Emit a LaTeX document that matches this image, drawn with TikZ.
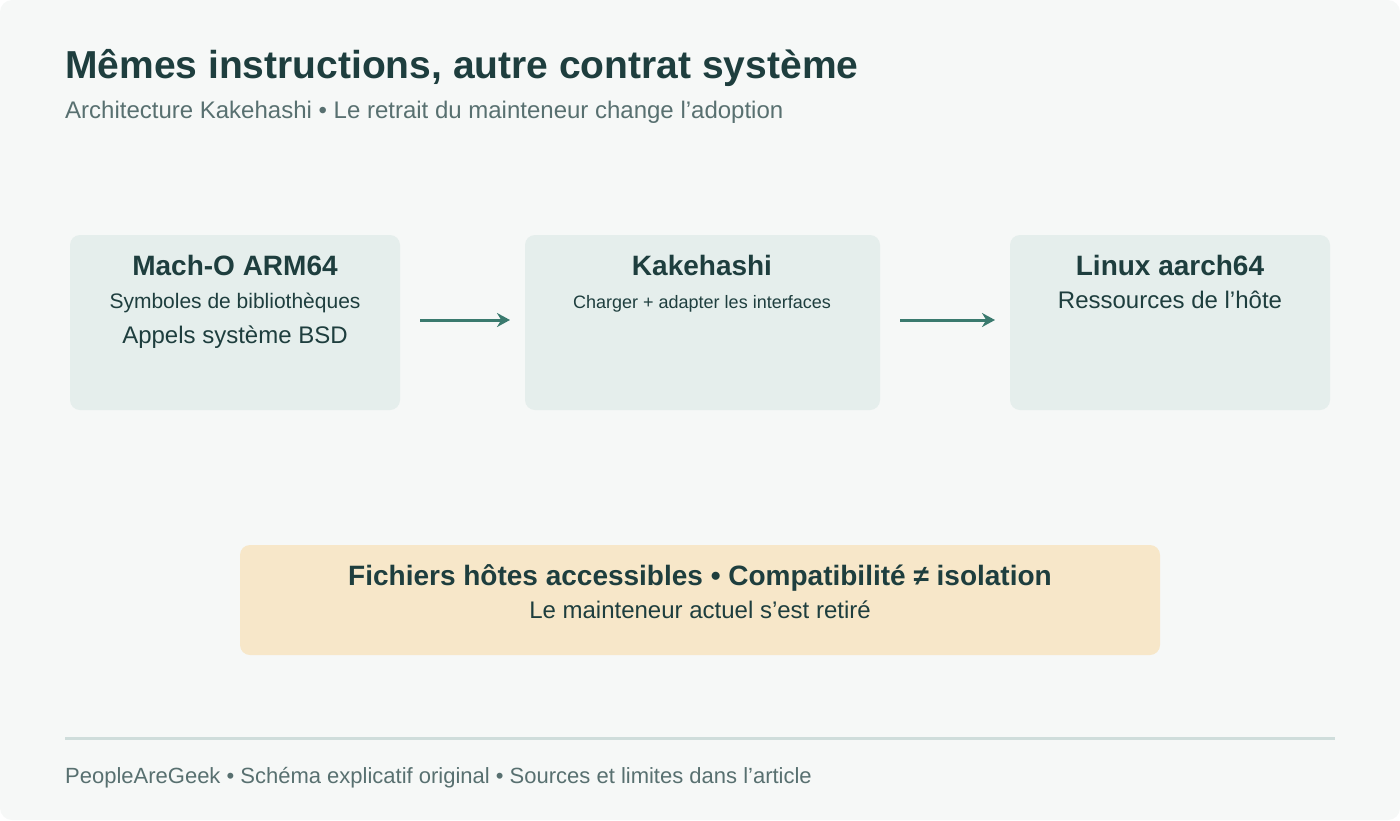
\documentclass[tikz,border=0pt]{standalone}
\usepackage{fontspec}
\setmainfont{Liberation Sans}
\usetikzlibrary{arrows.meta}
\definecolor{bg}{HTML}{F6F8F7}
\definecolor{boxc}{HTML}{E5EEEC}
\definecolor{dark}{HTML}{1E3E3E}
\definecolor{sub}{HTML}{587070}
\definecolor{arr}{HTML}{3A7A6E}
\definecolor{warn}{HTML}{F7E7C9}
\definecolor{rule}{HTML}{CFDDDB}
\tikzset{
 box/.style={fill=boxc,rounded corners=10pt,draw=none},
 wbox/.style={fill=warn,rounded corners=10pt,draw=none},
 btitle/.style={anchor=base,text=dark,font=\fontsize{28}{32}\selectfont\bfseries},
 bline/.style={anchor=base,text=dark,font=\fontsize{24}{28}\selectfont},
 bsmall/.style={anchor=base,text=dark,font=\fontsize{18}{22}\selectfont},
 conn/.style={draw=arr,line width=3pt,-{Stealth[length=13pt,width=14pt]}},
 note/.style={anchor=base west,text=sub,font=\fontsize{22}{26}\selectfont},
}
\begin{document}
\begin{tikzpicture}[x=1pt,y=-1pt]
\fill[bg,rounded corners=12pt] (0,0) rectangle (1400,820);
\useasboundingbox (0,0) rectangle (1400,820);
\node[anchor=base west,text=dark,font=\fontsize{39}{44}\selectfont\bfseries,inner sep=0] (title) at (65,78) {Mêmes instructions, autre contrat système};
\node[note,inner sep=0,font=\fontsize{24}{28}\selectfont] (subt) at (65,118) {Architecture Kakehashi • Le retrait du mainteneur change l’adoption};
\draw[box] (70,235) rectangle (400,410);
\node[btitle] (t1) at (235,275) {Mach-O ARM64};
\node[bsmall,font=\fontsize{21}{24}\selectfont] (l1a) at (235,308) {Symboles de bibliothèques};
\node[bline] (l1b) at (235,343) {Appels système BSD};
\draw[box] (525,235) rectangle (880,410);
\node[btitle] (t2) at (702,275) {Kakehashi};
\node[bsmall] (l2a) at (702,308) {Charger + adapter les interfaces};
\draw[box] (1010,235) rectangle (1330,410);
\node[btitle] (t3) at (1170,275) {Linux aarch64};
\node[bline] (l3a) at (1170,308) {Ressources de l’hôte};
\coordinate (a1s) at (420,320); \coordinate (a1e) at (510,320);
\coordinate (a2s) at (900,320); \coordinate (a2e) at (995,320);
\draw[conn] (a1s) -- (a1e);
\draw[conn] (a2s) -- (a2e);
\draw[wbox] (240,545) rectangle (1160,655);
\node[btitle] (w1) at (700,585) {Fichiers hôtes accessibles • Compatibilité ≠ isolation};
\node[bline] (w2) at (700,618) {Le mainteneur actuel s’est retiré};
\coordinate (r1) at (65,738); \coordinate (r2) at (1335,738);
\draw[rule,line width=3pt] (r1) -- (r2);
\node[note,inner sep=0] (foot) at (65,783) {PeopleAreGeek • Schéma explicatif original • Sources et limites dans l’article};
\end{tikzpicture}
\end{document}
